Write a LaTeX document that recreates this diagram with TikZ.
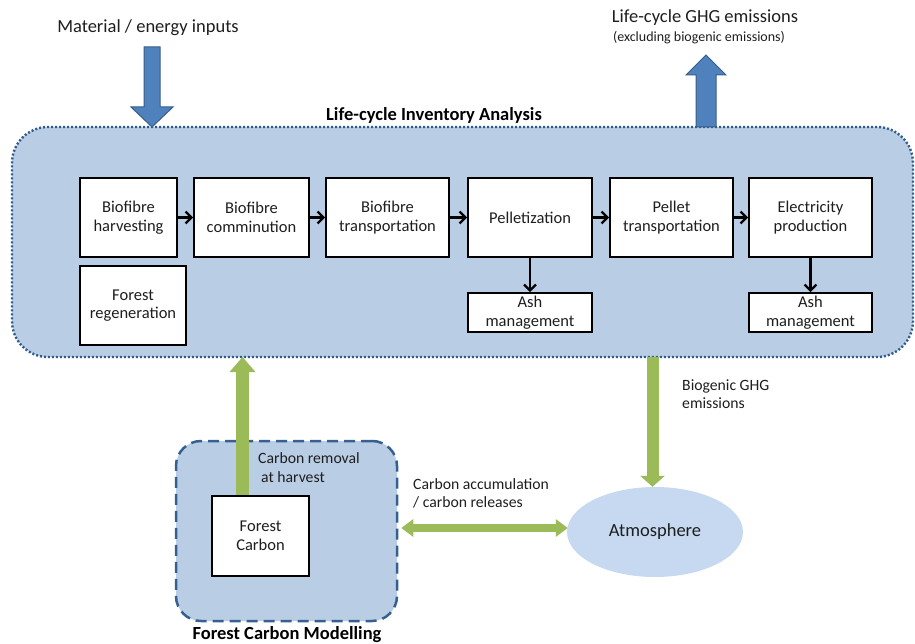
\documentclass[tikz,border=0pt]{standalone}
\usepackage{fontspec}
\setmainfont{Carlito}
\usetikzlibrary{arrows.meta,shapes.geometric,calc}
\definecolor{boxblue}{HTML}{B9CDE5}
\definecolor{ellblue}{HTML}{C6D9F1}
\definecolor{dotblue}{HTML}{2F5A8C}
\definecolor{dashblue}{HTML}{376092}
\definecolor{arrblue}{HTML}{4F81BD}
\definecolor{arrbluedark}{HTML}{385D8A}
\definecolor{agreen}{HTML}{9BBB59}
\definecolor{txt}{HTML}{1E1E1E}
\begin{document}
\begin{tikzpicture}[x=1pt,y=-1pt,
  stepbox/.style={draw=black, line width=1.7pt, fill=white, inner sep=0pt, align=center,
    font=\fontsize{16.5}{18.5}\selectfont, text=txt, minimum height=79pt},
  flow/.style={-{Straight Barb[length=6pt,width=12pt]}, line width=2.3pt, black},
  lbl/.style={font=\fontsize{15.7}{18.5}\selectfont, align=left, inner sep=0pt, text=txt},
  biglbl/.style={font=\fontsize{18.5}{20}\selectfont, inner sep=0pt, text=txt},
  ttl/.style={font=\bfseries\fontsize{18.5}{20}\selectfont, inner sep=0pt, text=black},
  fatblue/.style={fill=arrblue, draw=arrbluedark, line width=1pt, line join=miter},
  garrow/.style={draw=agreen}
]
\useasboundingbox (0,0) rectangle (915,644);

% containers
\node (lca) [draw=dotblue, fill=boxblue, rounded corners=36pt, minimum width=901pt, minimum height=230pt,
  line width=2.4pt, dash pattern=on 2pt off 2pt, inner sep=0pt] at (462.5,242) {};
\node (fcm) [draw=dashblue, fill=boxblue, rounded corners=25pt, minimum width=221pt, minimum height=180pt,
  line width=2.5pt, dash pattern=on 11pt off 6pt, inner sep=0pt] at (286.5,531) {};

% titles
\node[ttl] (t1) at (434,115) {Life-cycle Inventory Analysis};
\node[ttl] (t2) at (287,635) {Forest Carbon Modelling};

% process boxes
\node[stepbox, minimum width=97pt]  (bh) at (128.5,217.5) {Biofibre\\harvesting};
\node[stepbox, minimum width=115pt] (bc) at (251.5,217.5) {Biofibre\\comminution};
\node[stepbox, minimum width=123pt] (bt) at (387.5,217.5) {Biofibre\\transportation};
\node[stepbox, minimum width=124pt] (pz) at (530,217.5) {Pelletization};
\node[stepbox, minimum width=123pt] (pt) at (671.5,217.5) {Pellet\\transportation};
\node[stepbox, minimum width=123pt] (ep) at (810.5,217.5) {Electricity\\production};
\node[stepbox, minimum width=106pt] (fr) at (133,305.5) {Forest\\regeneration};
\node[stepbox, minimum width=124pt, minimum height=39pt] (a1) at (530,312.5) {Ash\\management};
\node[stepbox, minimum width=123pt, minimum height=39pt] (a2) at (810.5,312.5) {Ash\\management};
\node[stepbox, minimum width=97pt, minimum height=80pt] (fc) at (260.5,536) {Forest\\Carbon};

\draw[flow] (bh) -- (bc);
\draw[flow] (bc) -- (bt);
\draw[flow] (bt) -- (pz);
\draw[flow] (pz) -- (pt);
\draw[flow] (pt) -- (ep);
\draw[flow] (pz) -- (a1);
\draw[flow] (ep) -- (a2);

% atmosphere
\node (atm) [ellipse, fill=ellblue, minimum width=176pt, minimum height=90pt, inner sep=0pt,
  font=\fontsize{18.5}{20}\selectfont, text=txt] at (655,532) {Atmosphere};

% outside labels
\node[biglbl] (min) at (148,28) {Material / energy inputs};
\node[biglbl] (mout) at (705,18) {Life-cycle GHG emissions};
\node[inner sep=0pt, font=\fontsize{14}{16}\selectfont, text=txt] (mex) at (699,38) {(excluding biogenic emissions)};
\node[lbl, anchor=west] (lbio) at (682,394) {Biogenic GHG\\emissions};
\node[lbl, anchor=west] (lrem) at (258,467.5) {Carbon removal\\\hspace*{3pt}at harvest};
\node[lbl, anchor=west] (lacc) at (413,493.5) {Carbon accumulation\\/ carbon releases};

% fat blue arrows
\draw[fatblue] (144,47) -- (160,47) -- (160,107) -- (173,107) -- (152,127) -- (131,107) -- (144,107) -- cycle;
\draw[fatblue] (696,127) -- (716,127) -- (716,75) -- (726,75) -- (706,55) -- (686,75) -- (696,75) -- cycle;

% green arrows
\coordinate (harvest) at (242.5,357);
\coordinate (bio) at (652.5,357);
\draw[garrow, line width=13pt, -{Triangle[length=15pt,width=25pt]}] (fc.north -| harvest) -- (harvest);
\draw[garrow, line width=12pt, -{Triangle[length=11pt,width=24pt]}] (bio) -- (bio |- atm.north);
\draw[garrow, line width=8pt, {Triangle[length=12pt,width=17pt]}-{Triangle[length=12pt,width=17pt]}]
  ($(fcm.east)+(3,-3)$) -- ($(atm.west)+(1,-4)$);
\end{tikzpicture}
\end{document}
